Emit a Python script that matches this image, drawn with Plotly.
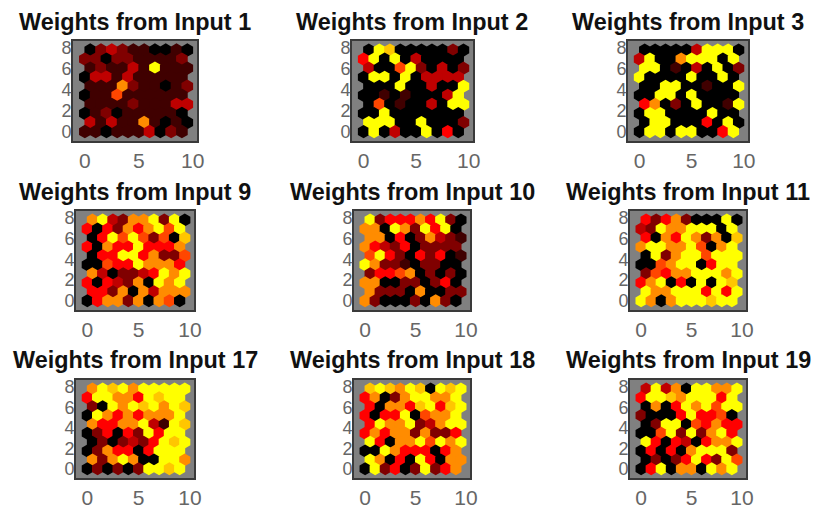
import math
import plotly.graph_objects as go

inputs = [1, 2, 3, 9, 10, 11, 17, 18, 19]

# Weight levels per hexagon, rows listed from the top row of each map to the bottom row
w1 = [[0,2,3,2,1,1,0,0,1,0],[2,2,0,2,2,1,1,1,1,2],[1,2,1,1,3,1,8,1,1,1],[0,3,3,1,3,1,1,1,1,1],[1,1,1,6,2,1,1,0,1,2],
      [0,1,1,5,1,1,1,1,1,1],[1,1,1,1,2,1,1,1,3,3],[0,1,2,0,1,1,1,1,1,0],[3,1,3,1,1,6,1,0,1,0],[1,1,0,1,1,1,3,0,2,1]]
w2 = [[0,8,7,0,0,0,0,0,2,0],[4,8,0,8,0,3,0,0,0,0],[3,0,0,5,8,2,0,3,0,2],[0,8,8,0,8,0,3,3,3,3],[0,0,0,8,0,0,3,0,0,8],
      [0,0,1,0,1,0,0,0,3,8],[0,5,0,1,0,0,3,0,8,8],[0,0,8,0,0,0,0,0,0,0],[8,8,8,0,0,8,0,0,0,2],[0,8,0,3,0,0,8,0,4,0]]
w3 = [[0,0,0,0,0,3,8,8,8,0],[3,8,0,0,6,8,8,8,0,8],[8,8,0,1,0,3,0,8,0,2],[8,0,0,0,0,8,0,0,8,0],[0,0,8,8,0,0,1,0,0,8],
      [0,0,8,8,0,8,0,0,0,0],[4,6,0,2,0,8,0,0,1,8],[0,8,8,0,0,0,0,8,0,0],[0,8,8,0,0,0,4,0,8,0],[0,8,8,0,8,8,0,0,4,8]]
w9 = [[6,8,3,2,6,6,8,2,8,0],[4,0,4,2,6,4,6,8,5,8],[0,4,8,5,8,5,2,5,0,7],[4,0,6,4,4,8,4,4,4,6],[0,4,4,8,8,4,6,2,2,5],
      [0,0,5,4,4,8,6,6,6,4],[6,3,0,2,2,3,4,8,6,8],[4,0,4,3,2,6,0,8,6,8],[4,4,2,6,0,6,3,6,6,6],[0,4,6,6,2,6,0,6,5,0]]
w10 = [[8,2,4,4,4,6,4,8,2,0],[6,6,0,8,6,2,8,4,8,0],[6,6,0,4,0,2,6,3,2,1],[6,4,3,2,4,0,2,2,2,2],[5,8,4,2,0,4,2,4,0,1],
       [8,6,2,2,1,0,2,2,0,0],[2,4,4,5,6,0,2,0,2,0],[6,6,0,0,2,2,0,2,4,0],[6,2,2,2,0,6,0,0,2,2],[6,2,0,0,0,2,0,6,2,0]]
w11 = [[4,2,4,6,2,0,0,0,8,0],[3,2,8,6,6,8,8,8,0,8],[4,0,6,4,8,6,2,6,0,7],[6,8,8,6,6,8,5,0,6,8],[0,8,2,6,8,8,5,8,8,8],
       [0,0,5,6,8,8,0,4,8,8],[2,5,4,6,6,8,8,8,6,8],[4,6,8,0,4,0,8,0,8,7],[8,6,6,8,8,8,4,8,4,8],[8,6,0,6,8,8,8,7,8,8]]
w17 = [[6,8,7,8,6,8,8,8,8,8],[4,8,8,6,6,4,8,7,8,8],[2,0,8,6,8,7,8,6,8,7],[0,8,6,4,6,4,6,6,6,8],[6,4,4,6,6,8,3,1,8,7],
       [0,2,4,0,4,2,8,4,8,8],[0,2,0,2,3,2,4,8,7,8],[0,2,6,4,4,0,4,8,8,8],[6,2,6,8,6,0,0,8,8,6],[0,2,0,2,0,2,8,8,7,8]]
w18 = [[7,8,7,6,8,7,0,8,7,8],[4,6,0,2,6,8,8,6,6,8],[4,0,6,6,4,7,8,4,7,8],[4,0,4,4,8,0,5,6,6,8],[4,8,6,6,8,2,3,6,8,8],
       [4,6,4,6,6,2,6,2,2,4],[8,4,0,6,6,8,5,8,6,8],[0,0,8,6,4,4,4,0,4,6],[8,6,0,4,0,8,4,0,6,6],[0,8,2,4,0,2,8,2,4,6]]
w19 = [[3,8,3,6,0,8,8,6,6,8],[4,8,8,7,6,8,8,8,4,8],[0,6,0,4,8,6,8,5,8,8],[2,0,0,0,4,8,4,4,5,0],[0,2,8,8,0,5,4,6,4,4],
       [0,0,5,8,2,8,2,6,8,4],[8,4,0,4,3,0,4,6,6,8],[0,4,0,4,0,6,8,8,8,2],[0,2,0,2,4,8,4,2,8,5],[0,4,8,0,6,6,0,8,6,8]]
weights = [w1, w2, w3, w9, w10, w11, w17, w18, w19]

x_ticks = [0, 5, 10]
y_ticks = [0, 2, 4, 6, 8]

W, H = 815, 508
# panel frames in pixels: left, right, top, bottom
frames = [(73,197,41,141),(352,473,41,141),(628,748,41,141),
          (76,194,211,310),(354,470,211,310),(630,746,211,310),
          (76,194,380,478),(354,470,380,478),(630,746,380,478)]
title_y = [22, 22, 22, 192, 192, 192, 360, 360, 360]
xr = [-1.1, 10.4]
yr = [-0.9, 8.66]
scale = [[0,"#000000"],[0.5,"#ff0000"],[0.75,"#ff8c00"],[1,"#ffff00"]]

fig = go.Figure()
annotations = []
layout = {}
for i, (num, grid, fr) in enumerate(zip(inputs, weights, frames)):
    l, r, t, b = fr
    xs, ys, cs = [], [], []
    nrows = len(grid)
    for k, row in enumerate(grid):
        level = nrows - 1 - k
        for col, v in enumerate(row):
            xs.append(col + 0.5 * (level % 2))
            ys.append(level * math.sqrt(3) / 2)
            cs.append(v)
    ux = (r - l) / (xr[1] - xr[0])
    uy = (b - t) / (yr[1] - yr[0])
    size = max(ux / 0.866, uy * 0.866 / 0.75) + 1.0
    n = "" if i == 0 else str(i + 1)
    fig.add_trace(go.Scatter(x=xs, y=ys, mode="markers", xaxis="x" + n, yaxis="y" + n, showlegend=False,
        marker=dict(symbol="hexagon", size=size, color=cs, cmin=0, cmax=8, colorscale=scale, line=dict(width=0))))
    layout["xaxis" + n] = dict(domain=[l / W, r / W], anchor="y" + n, range=xr, tickvals=x_ticks, ticks="", automargin=False,
        showgrid=False, zeroline=False, showline=True, mirror=True, linecolor="#3a3a3a", linewidth=2,
        tickfont=dict(family="Liberation Sans", size=21, color="#666666"), ticklabelstandoff=0)
    layout["yaxis" + n] = dict(domain=[1 - b / H, 1 - t / H], anchor="x" + n, range=yr, tickvals=y_ticks, ticks="", automargin=False,
        showgrid=False, zeroline=False, showline=True, mirror=True, linecolor="#3a3a3a", linewidth=2,
        tickfont=dict(family="Liberation Sans", size=18, color="#666666"), ticklabelstandoff=-4)
    annotations.append(dict(text=f"<b>Weights from Input {num}</b>", xref="paper", yref="paper",
        x=(l + r) / 2 / W, y=1 - title_y[i] / H, xanchor="center", yanchor="middle", showarrow=False,
        font=dict(family="Liberation Sans", size=23.4, color="#111111")))

fig.update_layout(width=W, height=H, margin=dict(l=0, r=0, t=0, b=0), paper_bgcolor="white",
    plot_bgcolor="#808080", annotations=annotations, **layout)
fig.write_html("out.html", config={"displayModeBar": False}, post_script="document.body.style.margin='0';")
